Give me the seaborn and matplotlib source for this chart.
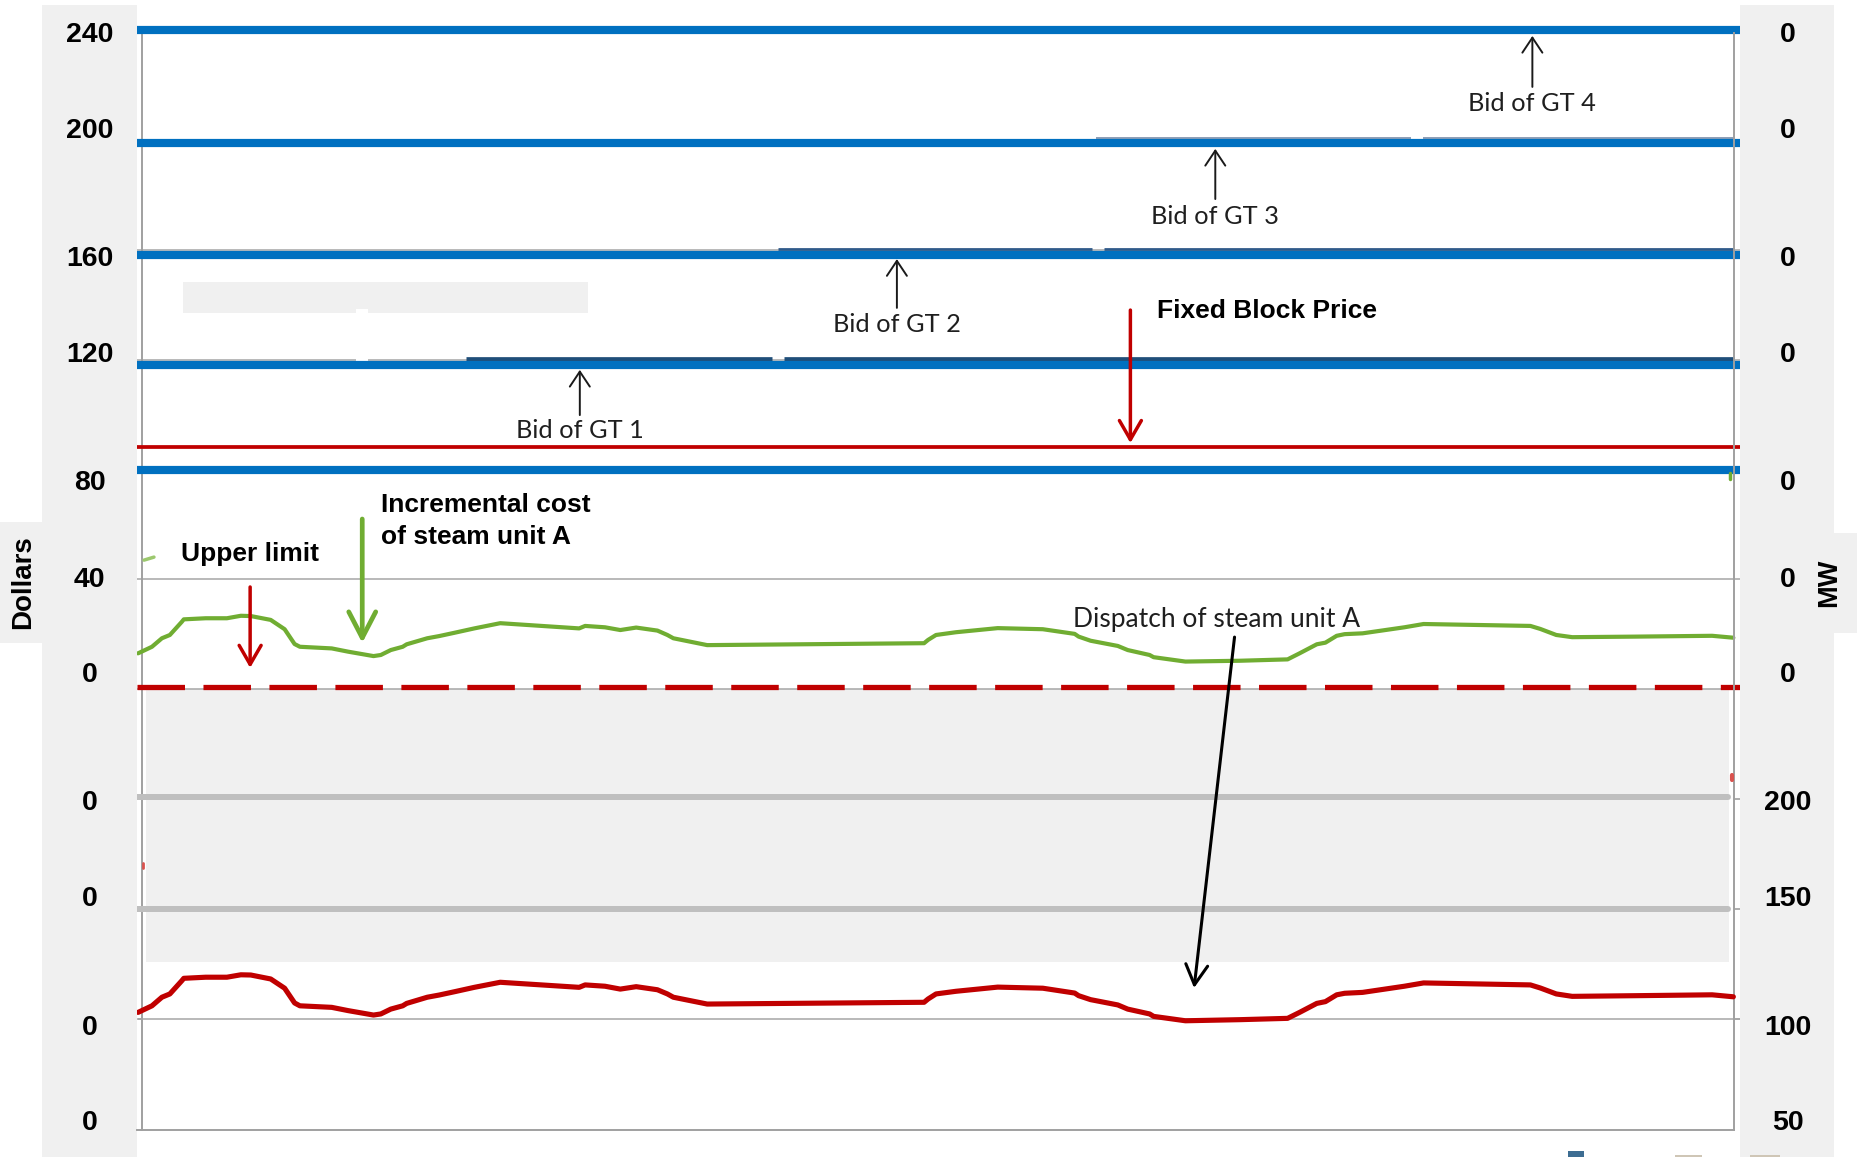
import matplotlib
matplotlib.use("Agg")
import matplotlib.pyplot as plt
from matplotlib.patches import Rectangle
from matplotlib.ticker import FixedLocator, FixedFormatter
import seaborn as sns

sns.set_theme(style="white")
plt.rcParams['font.family'] = ['Liberation Sans', 'DejaVu Sans']

# ---------------- data ----------------
hours = [-0.06, 0.15, 0.30, 0.42, 0.60, 0.63, 0.96, 1.28, 1.49, 1.64,
         1.94, 2.15, 2.30, 2.38, 2.86, 3.11, 3.49, 3.60, 3.75, 3.93,
         3.99, 4.30, 4.48, 4.71, 5.01, 5.40, 6.59, 6.68, 6.98, 7.21,
         7.45, 7.77, 7.92, 8.01, 8.52, 11.79, 11.85, 11.97, 12.27, 12.90,
         13.58, 14.06, 14.12, 14.30, 14.71, 14.86, 15.19, 15.25, 15.73, 16.55,
         17.27, 17.45, 17.71, 17.84, 18.01, 18.13, 18.40, 19.03, 19.32, 20.93,
         21.08, 21.32, 21.56, 22.51, 23.67, 23.99]

incremental_cost = [13.0, 15.4, 18.5, 19.7, 24.5, 25.4, 25.8, 25.8, 26.7, 26.6,
                    25.2, 21.8, 16.4, 15.4, 14.8, 13.6, 12.0, 12.4, 14.2, 15.4,
                    16.3, 18.5, 19.3, 20.5, 22.1, 24.0, 22.1, 23.0, 22.5, 21.5,
                    22.4, 21.3, 19.7, 18.5, 16.0, 16.7, 17.9, 19.7, 20.7, 22.2,
                    21.8, 20.1, 19.1, 17.6, 15.7, 14.2, 12.4, 11.6, 10.0, 10.3,
                    10.8, 13.0, 16.3, 16.9, 19.4, 20.0, 20.3, 22.5, 23.7, 23.0,
                    21.9, 19.7, 18.9, 19.1, 19.4, 18.7]

dispatch_mw = [103.0, 106.0, 109.9, 111.4, 117.4, 118.5, 119.0, 119.0, 120.1, 120.0,
               118.2, 114.0, 107.3, 106.0, 105.3, 103.8, 101.8, 102.3, 104.5, 106.0,
               107.1, 109.9, 110.9, 112.4, 114.4, 116.7, 114.4, 115.5, 114.9, 113.6,
               114.7, 113.3, 111.4, 109.9, 106.8, 107.6, 109.1, 111.4, 112.6, 114.5,
               114.0, 111.8, 110.6, 108.8, 106.4, 104.5, 102.3, 101.2, 99.2, 99.7,
               100.3, 103.0, 107.1, 107.9, 111.0, 111.7, 112.1, 114.9, 116.4, 115.5,
               114.1, 111.4, 110.3, 110.6, 111.0, 110.1]

bid_lines = [240.4, 199.2, 158.4, 118.0, 80.0]          # $ (GT bids)
fixed_block_price = 88.4                                 # $
upper_limit = 0.8                                        # $
dollar_grid = [0, 40, 80, 120, 160, 200, 240]
mw_grid = [100]
mw_heavy_lines = [150, 201]

# partial bid steps (start hour, end hour) at a level
navy_120_level = 120.2
navy_120_segments = [(4.88, 9.50), (9.68, 24.0)]
navy_160_level = 160.5
navy_160_segments = [(9.59, 14.32), (14.50, 24.0)]
gray_200_level = 201.0
gray_200_segments = [(14.38, 19.13), (19.31, 24.0)]

# small stray marks
green_stub_left = ([0.03, 0.18], [47.0, 48.1])
green_stub_right = ([23.94, 23.94], [78.8, 76.6])
red_stub_left = ([0.015, 0.015], [170.9, 168.6])
red_stub_right = ([23.97, 23.97], [210.9, 208.6])

left_tick_pos = [239.7, 204.6, 157.9, 122.9, 76.2, 40.8, 6.2, -40.5, -75.5, -122.6, -157.2]
left_tick_labels = ["240", "200", "160", "120", "80", "40", "0", "0", "0", "0", "0"]
right_tick_pos = [548.8, 505.0, 446.8, 403.2, 345.0, 300.9, 257.7, 199.5, 155.9, 97.3, 54.1]
right_tick_labels = ["0", "0", "0", "0", "0", "0", "0", "200", "150", "100", "50"]

gt_labels = ["Bid of GT 1", "Bid of GT 2", "Bid of GT 3", "Bid of GT 4"]

# ---------------- styling ----------------
BLUE = '#0070c0'
RED = '#c00000'
GREEN = '#70ad32'
NAVY = '#1f4e79'
PANEL = '#f0f0f0'
GRID = '#a6a6a6'
SPINE = '#a0a0a0'
W, H = 1858, 1157


def fx(px):
    return px / W


def fy(py):
    return 1 - py / H


fig = plt.figure(figsize=(W / 100, H / 100), dpi=100, facecolor='white')

# grey side panels
for (x0, y0, x1, y1) in [(42, 5, 137.5, 1157), (0, 522, 42, 643),
                         (1740, 5, 1834, 1157), (1834, 533, 1858, 633)]:
    fig.add_artist(Rectangle((fx(x0), fy(y1)), fx(x1) - fx(x0), (y1 - y0) / H,
                             transform=fig.transFigure, color=PANEL, lw=0, zorder=-5))
fig.add_artist(Rectangle((fx(1568), 0), fx(1584) - fx(1568), 6 / H,
                         transform=fig.transFigure, color='#3d6d92', lw=0, zorder=-4))
for (x0, x1) in [(1675, 1702), (1750, 1780)]:
    fig.add_artist(Rectangle((fx(x0), 0), fx(x1) - fx(x0), 2 / H,
                             transform=fig.transFigure, color='#cfc6b6', lw=0, zorder=-4))

ax = fig.add_axes([fx(137.5), fy(1130), fx(1740) - fx(137.5), (1130 - 20) / H])
ax.set_facecolor('white')
ax2 = ax.twinx()

XLIM = (-0.068, 24.09)
YLIM_D = (-160.85, 244.0)
YLIM_MW = (49.55, 554.1)

# background pieces
ax.axhspan(-99.6, 0, xmin=0.005, xmax=0.9931, color=PANEL, lw=0, zorder=0.5)
ax.add_patch(Rectangle((0.62, 137.1), 6.10, 11.3, color=PANEL, lw=0, zorder=0.6))

for v in dollar_grid:
    ax.axhline(v, color=GRID, lw=1.1, zorder=1)
ax.add_patch(Rectangle((3.23, 119.3), 0.18, 19.3, color='white', lw=0, zorder=1.5))

for a, b in navy_120_segments:
    ax.hlines(navy_120_level, a, b, color=NAVY, lw=3.4, zorder=2.9)
for a, b in navy_160_segments:
    ax.hlines(navy_160_level, a, b, color='#2f5a8a', lw=2.0, zorder=2.9)
for a, b in gray_200_segments:
    ax.hlines(gray_200_level, a, b, color='#8c9db5', lw=1.4, zorder=2.9)

for v in bid_lines:
    ax.axhline(v, color=BLUE, lw=5.9, zorder=3, solid_capstyle='butt')

ax.axhline(fixed_block_price, color=RED, lw=2.7, zorder=4)
ax.axhline(upper_limit, color=RED, lw=3.8, zorder=4, dashes=(9.0, 3.5),
           dash_capstyle='butt')

sns.lineplot(x=hours, y=incremental_cost, ax=ax, color=GREEN, lw=3.0, zorder=5)
ax.plot(*green_stub_left, color='#9cc86e', lw=2.5, zorder=5)
ax.plot(*green_stub_right, color=GREEN, lw=2.5, zorder=5)

# MW part
ax2.axhline(mw_grid[0], color=GRID, lw=1.1, zorder=1)
for v in mw_heavy_lines:
    ax2.axhline(v, xmin=0.0, xmax=0.9925, color='#bfbfbf', lw=4.3, zorder=1)
sns.lineplot(x=hours, y=dispatch_mw, ax=ax2, color=RED, lw=3.7, zorder=5)
ax2.plot(*red_stub_left, color='#d9534f', lw=2, zorder=5)
ax2.plot(*red_stub_right, color='#d9534f', lw=3, zorder=5)

ax.set_xlim(*XLIM)
ax.set_ylim(*YLIM_D)
ax2.set_ylim(*YLIM_MW)
ax.set_xlabel('')
ax.set_ylabel('')
ax2.set_ylabel('')
ax.set_xticks([])

# spines
for s in ['top', 'right']:
    ax.spines[s].set_visible(False)
for s in ['top', 'left', 'bottom']:
    ax2.spines[s].set_visible(False)
ax.spines['left'].set_position(('data', 0))
ax.spines['left'].set_bounds(YLIM_D[0], 239.3)
ax.spines['bottom'].set_bounds(XLIM[0], 24)
ax2.spines['right'].set_position(('data', 24))
ax2.spines['right'].set_bounds(YLIM_MW[0], 548.2)
for sp in [ax.spines['left'], ax.spines['bottom'], ax2.spines['right']]:
    sp.set_color(SPINE)
    sp.set_linewidth(1.4)
    sp.set_visible(True)

# ticks
ax.yaxis.set_major_locator(FixedLocator(left_tick_pos))
ax.yaxis.set_major_formatter(FixedFormatter(left_tick_labels))
ax.yaxis.set_minor_locator(FixedLocator([-120.4, -80.2, -40.5]))
ax.tick_params(axis='y', which='major', length=0, pad=37.8, labelsize=20.5, labelcolor='black')
ax.tick_params(axis='y', which='minor', length=3, width=1.2, color=SPINE, left=True)
ax2.yaxis.set_major_locator(FixedLocator(right_tick_pos))
ax2.yaxis.set_major_formatter(FixedFormatter(right_tick_labels))
ax2.yaxis.set_minor_locator(FixedLocator([100, 150, 200]))
ax2.tick_params(axis='y', which='major', length=0, pad=38.9, labelsize=20.5, labelcolor='black')
ax2.tick_params(axis='y', which='minor', length=4.3, width=1.2, color=SPINE, right=True)
plt.setp(ax.get_yticklabels(), ha='center', fontweight='bold')
plt.setp(ax2.get_yticklabels(), ha='center', fontweight='bold')

# annotations
CAL = ['Lato', 'DejaVu Sans']


def arrow(axis, x0, y0, x1, y1, color, lw, hl, hw):
    axis.annotate('', xy=(x1, y1), xytext=(x0, y0), zorder=7,
                  arrowprops=dict(arrowstyle=f'->,head_length={hl},head_width={hw}',
                                  color=color, lw=lw, shrinkA=0, shrinkB=0,
                                  mutation_scale=10))


gt_label_hours = [6.60, 11.38, 16.18, 20.96]
gt_text_y = [94.1, 133.1, 172.2, 213.7]
gt_tail_y = [99.9, 139.0, 178.7, 219.6]
gt_tip_y = [116.4, 156.8, 197.0, 238.2]
for lab, hx, ty, y0, y1 in zip(gt_labels, gt_label_hours, gt_text_y, gt_tail_y, gt_tip_y):
    ax.text(hx, ty, lab, ha='center', va='center', fontsize=18.3, family=CAL,
            color='#1f1f1f', zorder=6)
    arrow(ax, hx, y0, hx, y1, '#1a1a1a', 1.4, 1.08, 0.72)

ax.text(15.30, 137.9, 'Fixed Block Price', ha='left', va='center', fontsize=19,
        fontweight='bold', color='black', zorder=6)
arrow(ax, 14.90, 138.2, 14.90, 89.7, RED, 2.5, 1.37, 0.79)

ax.text(0.59, 49.2, 'Upper limit', ha='left', va='center', fontsize=19,
        fontweight='bold', color='black', zorder=6)
arrow(ax, 1.63, 37.2, 1.63, 7.7, RED, 2.5, 1.37, 0.79)

ax.text(3.60, 61.1, 'Incremental cost\nof steam unit A', ha='left', va='center',
        fontsize=19, fontweight='bold', color='black', linespacing=1.42, zorder=6)
arrow(ax, 3.32, 62.0, 3.32, 16.8, GREEN, 3.4, 1.87, 0.97)

ax.text(14.03, 25.2, 'Dispatch of steam unit A', ha='left', va='center', fontsize=19,
        family=CAL, color='#1f1f1f', zorder=6)
arrow(ax2, 16.47, 273.6, 15.86, 114.1, 'black', 2.2, 1.44, 0.79)

fig.text(fx(23), fy(582), 'Dollars', rotation=90, ha='center', va='center',
         fontsize=20, fontweight='bold', color='black')
fig.text(fx(1829), fy(583), 'MW', rotation=90, ha='center', va='center',
         fontsize=19.5, fontweight='bold', color='black')

fig.savefig('out.png', dpi=100, facecolor='white')
